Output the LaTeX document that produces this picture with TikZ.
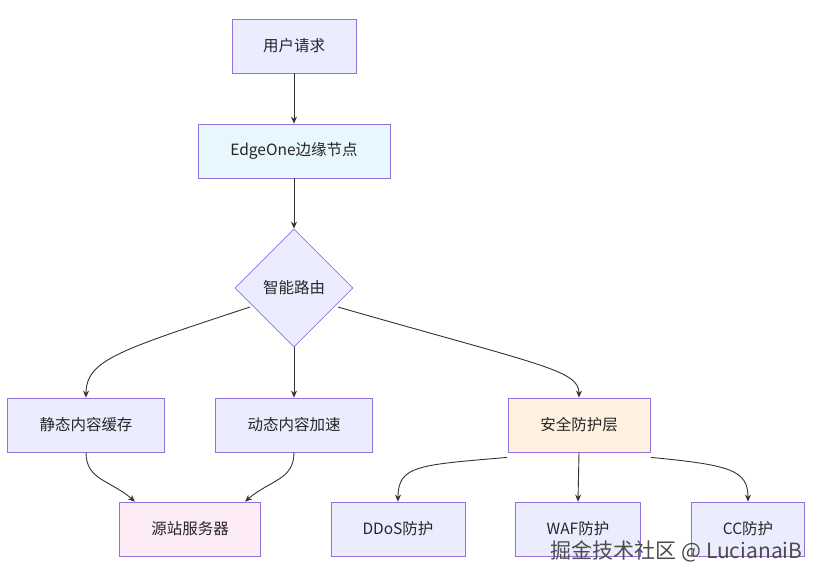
\documentclass[tikz,border=0pt]{standalone}
\usepackage{fontspec}
\setmainfont{Noto Sans CJK SC}
\usetikzlibrary{shapes.geometric,arrows.meta}
\definecolor{fillA}{HTML}{ECECFF}
\definecolor{strokeA}{HTML}{9370DB}
\definecolor{edgeC}{HTML}{333333}
\begin{document}
\begin{tikzpicture}[x=1pt,y=-1pt,
  box/.style={draw=strokeA,fill=fillA,line width=0.8pt,minimum height=54pt,inner sep=0pt,font=\fontsize{15.5}{17}\selectfont,text=black!85},
  dia/.style={diamond,draw=strokeA,fill=fillA,line width=0.8pt,minimum width=118pt,minimum height=118pt,inner sep=0pt,font=\fontsize{15.5}{17}\selectfont,text=black!85},
  ar/.style={draw=edgeC,line width=0.9pt,-{Stealth[length=7pt,width=6pt]}}]
\useasboundingbox (0,0) rectangle (823,587);
\node[box,minimum width=124pt] (req) at (294,46) {用户请求};
\node[box,minimum width=192pt,fill=cyan!10] (edge) at (294,151) {EdgeOne边缘节点};
\node[dia] (route) at (294,288) {智能路由};
\node[box,minimum width=157pt] (stat) at (86,425) {静态内容缓存};
\node[box,minimum width=157pt] (dyn) at (294,425) {动态内容加速};
\node[box,minimum width=142pt,fill=orange!12] (sec) at (579,425) {安全防护层};
\node[box,minimum width=141pt,fill=magenta!8] (orig) at (190,529) {源站服务器};
\node[box,minimum width=134pt] (ddos) at (398,529) {DDoS防护};
\node[box,minimum width=125pt] (waf) at (578,529) {WAF防护};
\node[box,minimum width=113pt] (cc) at (748,529) {CC防护};
\node[font=\fontsize{21}{23}\selectfont,text=black!70,anchor=east] (wm) at (806,551) {掘金技术社区 @ LucianaiB};
\draw[ar] (req) -- (edge);
\draw[ar] (edge) -- (route);
\coordinate (r1) at (250,307);
\coordinate (r2) at (338,307);
\draw[ar] (r1) .. controls (120,350) and (86,360) .. (stat.north);
\draw[ar] (route) -- (dyn);
\draw[ar] (r2) .. controls (540,365) and (579,370) .. (sec.north);
\draw[ar] (stat.south) .. controls (86,480) and (110,480) .. ([xshift=-55pt]orig.north);
\draw[ar] (dyn.south) .. controls (294,480) and (270,480) .. ([xshift=55pt]orig.north);
\draw[ar] ([xshift=-72pt,yshift=-5pt]sec.south) .. controls (420,465) and (398,465) .. (ddos.north);
\draw[ar] (sec.south) -- (waf.north);
\draw[ar] ([xshift=72pt,yshift=-5pt]sec.south) .. controls (730,465) and (748,470) .. (cc.north);
\end{tikzpicture}
\end{document}
